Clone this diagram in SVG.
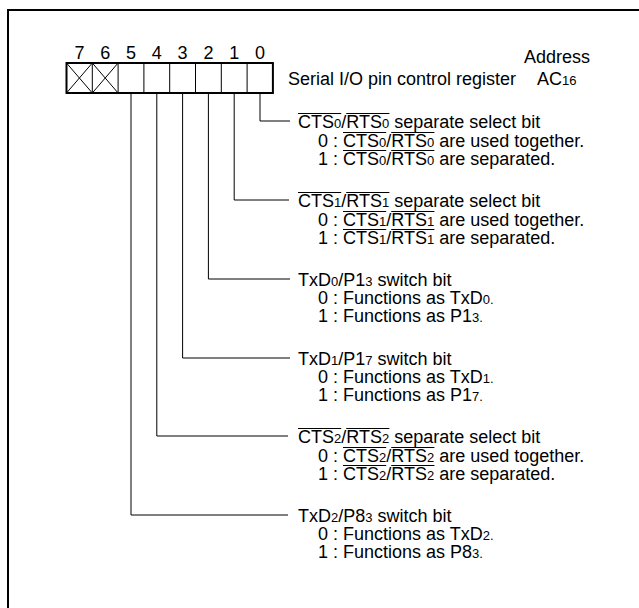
<svg xmlns="http://www.w3.org/2000/svg" width="639" height="608" viewBox="0 0 639 608">
<style>
text{font-family:"Liberation Sans",Arial,sans-serif;font-size:18px;fill:#000}
.s{font-size:13px}
.m{text-anchor:middle}
.conn{fill:none;stroke:#000;stroke-width:1}
.div{stroke:#000;stroke-width:1}
.ov{stroke:#000;stroke-width:1;fill:none}
</style>
<defs>
<path id="ovT" d="M298 0h43.2M346.2 0h43.2"/>
<path id="ovR" d="M343 0h43.2M391.2 0h43.2"/>
</defs>
<rect x="8" y="10" width="700" height="700" fill="#fff" stroke="#000" stroke-width="2"/>
<g id="register">
<text class="m" x="79.4" y="59">7</text>
<text class="m" x="105.2" y="59">6</text>
<text class="m" x="131" y="59">5</text>
<text class="m" x="156.8" y="59">4</text>
<text class="m" x="182.6" y="59">3</text>
<text class="m" x="208.4" y="59">2</text>
<text class="m" x="234.2" y="59">1</text>
<text class="m" x="260" y="59">0</text>
<rect x="66.5" y="63" width="206.4" height="30" fill="#fff" stroke="#000" stroke-width="2"/>
<g class="div">
<line x1="92.3" y1="63" x2="92.3" y2="93"/>
<line x1="118.1" y1="63" x2="118.1" y2="93"/>
<line x1="143.9" y1="63" x2="143.9" y2="93"/>
<line x1="169.7" y1="63" x2="169.7" y2="93"/>
<line x1="195.5" y1="63" x2="195.5" y2="93"/>
<line x1="221.3" y1="63" x2="221.3" y2="93"/>
<line x1="247.1" y1="63" x2="247.1" y2="93"/>
<line x1="66.5" y1="63" x2="92.3" y2="93"/>
<line x1="92.3" y1="63" x2="66.5" y2="93"/>
<line x1="92.3" y1="63" x2="118.1" y2="93"/>
<line x1="118.1" y1="63" x2="92.3" y2="93"/>
</g>
<text x="288" y="85">Serial I/O pin control register</text>
<text class="m" x="557" y="63">Address</text>
<text x="537" y="85">AC<tspan class="s">16</tspan></text>
</g>
<g id="connectors" class="conn">
<path d="M260 93V121H290"/>
<path d="M234.2 93V200H289"/>
<path d="M208.4 93V279H290"/>
<path d="M182.6 93V358H290"/>
<path d="M156.8 93V436H288"/>
<path d="M131 93V515H288"/>
</g>
<g id="bit0">
<text x="298" y="128">CTS<tspan class="s">0</tspan>/RTS<tspan class="s">0</tspan> separate select bit</text>
<text x="318" y="147">0 : CTS<tspan class="s">0</tspan>/RTS<tspan class="s">0</tspan> are used together.</text>
<text x="318" y="165">1 : CTS<tspan class="s">0</tspan>/RTS<tspan class="s">0</tspan> are separated.</text>
<g class="ov">
<use href="#ovT" y="113.5"/>
<use href="#ovR" y="132.5"/>
<use href="#ovR" y="150.5"/>
</g>
</g>
<g id="bit1">
<text x="298" y="207">CTS<tspan class="s">1</tspan>/RTS<tspan class="s">1</tspan> separate select bit</text>
<text x="318" y="226">0 : CTS<tspan class="s">1</tspan>/RTS<tspan class="s">1</tspan> are used together.</text>
<text x="318" y="244">1 : CTS<tspan class="s">1</tspan>/RTS<tspan class="s">1</tspan> are separated.</text>
<g class="ov">
<use href="#ovT" y="192.5"/>
<use href="#ovR" y="211.5"/>
<use href="#ovR" y="229.5"/>
</g>
</g>
<g id="bit2">
<text x="298" y="286">TxD<tspan class="s">0</tspan>/P1<tspan class="s">3</tspan> switch bit</text>
<text x="318" y="304">0 : Functions as TxD<tspan class="s">0.</tspan></text>
<text x="318" y="322">1 : Functions as P1<tspan class="s">3.</tspan></text>
</g>
<g id="bit3">
<text x="298" y="365">TxD<tspan class="s">1</tspan>/P1<tspan class="s">7</tspan> switch bit</text>
<text x="318" y="383">0 : Functions as TxD<tspan class="s">1.</tspan></text>
<text x="318" y="401">1 : Functions as P1<tspan class="s">7.</tspan></text>
</g>
<g id="bit4">
<text x="298" y="443">CTS<tspan class="s">2</tspan>/RTS<tspan class="s">2</tspan> separate select bit</text>
<text x="318" y="462">0 : CTS<tspan class="s">2</tspan>/RTS<tspan class="s">2</tspan> are used together.</text>
<text x="318" y="480">1 : CTS<tspan class="s">2</tspan>/RTS<tspan class="s">2</tspan> are separated.</text>
<g class="ov">
<use href="#ovT" y="428.5"/>
<use href="#ovR" y="447.5"/>
<use href="#ovR" y="465.5"/>
</g>
</g>
<g id="bit5">
<text x="298" y="522">TxD<tspan class="s">2</tspan>/P8<tspan class="s">3</tspan> switch bit</text>
<text x="318" y="540">0 : Functions as TxD<tspan class="s">2.</tspan></text>
<text x="318" y="558">1 : Functions as P8<tspan class="s">3.</tspan></text>
</g>
</svg>
